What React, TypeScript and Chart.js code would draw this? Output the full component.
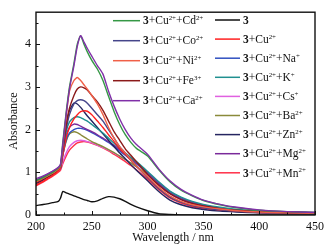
import React, { useEffect, useRef } from "react";
import { Chart, registerables } from "chart.js";
Chart.register(...registerables);

const wavelengths = [200,205,210,215,220,222,224,227,230,234,237,240,243,246,250,255,260,265,270,275,280,285,290,300,310,320,330,340,350,365,380,400,425,450];

const s3 = [0.22,0.24,0.26,0.29,0.32,0.40,0.55,0.52,0.49,0.45,0.42,0.39,0.36,0.34,0.31,0.33,0.39,0.43,0.42,0.38,0.32,0.25,0.19,0.1,0.03,0.01,0,0,0,0,0,0,0,0];
const sCu = [0.7,0.77,0.85,0.93,1.03,1.1,1.4,1.8,2.05,2.25,2.35,2.42,2.44,2.43,2.35,2.2,2.05,1.88,1.72,1.55,1.42,1.28,1.15,0.88,0.62,0.42,0.3,0.22,0.17,0.12,0.09,0.06,0.05,0.04];
const sNa = [0.75,0.82,0.9,0.97,1.06,1.1,1.4,1.75,1.92,2.0,2.03,2.03,2.01,1.98,1.93,1.86,1.78,1.7,1.6,1.5,1.4,1.3,1.2,0.98,0.74,0.52,0.38,0.28,0.22,0.15,0.11,0.08,0.06,0.05];
const sK = [0.78,0.84,0.92,0.99,1.08,1.12,1.5,1.95,2.18,2.28,2.3,2.28,2.24,2.2,2.12,2.02,1.92,1.8,1.68,1.56,1.45,1.35,1.25,1.02,0.78,0.56,0.42,0.32,0.25,0.18,0.13,0.09,0.07,0.05];
const sCs = [0.72,0.79,0.87,0.95,1.04,1.08,1.25,1.45,1.6,1.7,1.74,1.75,1.74,1.72,1.69,1.64,1.58,1.52,1.45,1.38,1.3,1.22,1.13,0.93,0.7,0.5,0.36,0.27,0.21,0.15,0.11,0.08,0.06,0.05];
const sBa = [0.74,0.81,0.89,0.96,1.05,1.1,1.4,1.72,1.9,1.95,1.93,1.88,1.83,1.78,1.72,1.66,1.6,1.53,1.46,1.38,1.3,1.22,1.13,0.95,0.73,0.52,0.38,0.29,0.23,0.16,0.12,0.09,0.07,0.05];
const sZn = [0.74,0.8,0.88,0.96,1.05,1.1,1.55,2.1,2.45,2.62,2.6,2.52,2.42,2.32,2.2,2.05,1.9,1.75,1.6,1.45,1.32,1.18,1.05,0.8,0.55,0.35,0.24,0.17,0.13,0.09,0.07,0.05,0.04,0.03];
const sMg = [0.82,0.88,0.95,1.02,1.1,1.12,1.45,1.85,2.05,2.13,2.12,2.08,2.04,2.0,1.95,1.88,1.8,1.72,1.63,1.53,1.43,1.33,1.22,1.0,0.76,0.55,0.4,0.3,0.23,0.16,0.12,0.09,0.07,0.06];
const sMn = [0.68,0.75,0.83,0.91,1.0,1.05,1.2,1.38,1.52,1.63,1.69,1.71,1.72,1.71,1.68,1.63,1.57,1.5,1.42,1.34,1.25,1.16,1.06,0.84,0.6,0.4,0.28,0.2,0.15,0.11,0.08,0.06,0.05,0.04];
const sCd = [0.8,0.86,0.93,1.0,1.1,1.18,1.7,2.4,3.0,3.55,4.0,4.2,4.0,3.82,3.62,3.42,3.15,2.78,2.42,2.12,1.88,1.7,1.56,1.38,1.06,0.78,0.58,0.45,0.34,0.24,0.17,0.11,0.08,0.06];
const sCo = [0.8,0.86,0.93,1.0,1.09,1.15,1.5,2.0,2.35,2.6,2.68,2.7,2.68,2.62,2.5,2.35,2.2,2.0,1.8,1.6,1.45,1.3,1.15,0.88,0.62,0.42,0.3,0.22,0.17,0.12,0.09,0.06,0.05,0.04];
const sNi = [0.78,0.84,0.91,0.98,1.08,1.15,1.6,2.3,2.9,3.15,3.22,3.15,3.05,2.95,2.8,2.6,2.35,2.05,1.8,1.6,1.45,1.3,1.15,0.9,0.65,0.45,0.32,0.24,0.19,0.14,0.1,0.07,0.05,0.04];
const sFe = [0.76,0.82,0.9,0.97,1.07,1.15,1.55,2.1,2.5,2.8,2.95,3.0,2.98,2.93,2.8,2.65,2.45,2.2,1.95,1.75,1.55,1.4,1.25,0.95,0.7,0.5,0.36,0.27,0.21,0.15,0.11,0.08,0.06,0.05];
const sCa = [0.85,0.9,0.96,1.03,1.12,1.2,1.65,2.35,2.95,3.5,3.95,4.2,4.05,3.9,3.72,3.5,3.3,2.9,2.55,2.25,2.0,1.8,1.65,1.42,1.08,0.8,0.6,0.46,0.35,0.25,0.18,0.12,0.08,0.06];

const seriesLabels = ["3","3+Cu²⁺","3+Cu²⁺+Na⁺","3+Cu²⁺+K⁺","3+Cu²⁺+Cs⁺","3+Cu²⁺+Ba²⁺","3+Cu²⁺+Zn²⁺","3+Cu²⁺+Mg²⁺","3+Cu²⁺+Mn²⁺","3+Cu²⁺+Cd²⁺","3+Cu²⁺+Co²⁺","3+Cu²⁺+Ni²⁺","3+Cu²⁺+Fe³⁺","3+Cu²⁺+Ca²⁺"];
const seriesValues = [s3,sCu,sNa,sK,sCs,sBa,sZn,sMg,sMn,sCd,sCo,sNi,sFe,sCa];
const seriesColors = ["#111111","#ff2020","#3050c0","#209090","#e060e0","#8a8a3a","#252560","#7a2a9a","#ff3048","#359845","#45458a","#f06048","#8b1a1a","#8030a8"];
const drawOrder = [13,9,11,12,10,1,3,6,7,2,5,4,8,0];

const xTicks = [200,250,300,350,400,450];
const yTicks = [0,1,2,3,4];

const FONT = "'Liberation Serif','Times New Roman',serif";
const SUP: Record<string,string> = {"²":"2","³":"3","⁺":"+"};

function drawRich(ctx: CanvasRenderingContext2D, text: string, x: number, y: number, size: number) {
  ctx.textBaseline = "alphabetic";
  ctx.textAlign = "left";
  const base = y + size * 0.33;
  let cx = x;
  for (let i = 0; i < text.length; i++) {
    const ch = text[i];
    if (SUP[ch]) {
      ctx.font = `${size * 0.6}px ${FONT}`;
      ctx.fillText(SUP[ch], cx, base - size * 0.38);
      cx += ctx.measureText(SUP[ch]).width;
    } else {
      ctx.font = (i === 0 && ch === "3" ? "bold " : "") + `${size}px ${FONT}`;
      ctx.fillText(ch, cx, base);
      cx += ctx.measureText(ch).width;
    }
  }
}

const framePlugin = {
  id: "frame",
  afterDatasetsDraw(chart: any) {
    const { ctx, chartArea: a, scales } = chart;
    const xs = scales.x, ys = scales.y;
    ctx.save();
    ctx.strokeStyle = "#111";
    ctx.lineWidth = 1.4;
    ctx.strokeRect(a.left, a.top, a.right - a.left, a.bottom - a.top);
    ctx.lineWidth = 1;
    for (let v = 200; v <= 450; v += 25) {
      const px = Math.round(xs.getPixelForValue(v)) + 0.5;
      const len = v % 50 === 0 ? 4 : 2.5;
      ctx.beginPath(); ctx.moveTo(px, a.bottom); ctx.lineTo(px, a.bottom - len); ctx.stroke();
    }
    for (let v = 0; v <= 4.5; v += 0.5) {
      const py = Math.round(ys.getPixelForValue(v)) + 0.5;
      const len = v % 1 === 0 ? 4 : 2.5;
      ctx.beginPath(); ctx.moveTo(a.left, py); ctx.lineTo(a.left + len, py); ctx.stroke();
    }
    // axis titles
    ctx.fillStyle = "#111";
    ctx.font = `12px ${FONT}`;
    ctx.textAlign = "center";
    ctx.textBaseline = "middle";
    ctx.fillText("Wavelength / nm", 173, 238);
    ctx.save();
    ctx.translate(14, 121);
    ctx.rotate(-Math.PI / 2);
    ctx.fillText("Absorbance", 0, 0);
    ctx.restore();
    // legend
    const cols = [
      { items: [9,10,11,12,13], x0: 113, x1: 140, tx: 143, y0: 20.7, dy: 20 },
      { items: [0,1,2,3,4,5,6,7,8], x0: 215, x1: 240, tx: 243, y0: 20, dy: 19.1 },
    ];
    for (const c of cols) {
      c.items.forEach((di, r) => {
        const y = c.y0 + r * c.dy;
        const ds = chart.data.datasets[drawOrder.indexOf(di)];
        ctx.strokeStyle = ds.borderColor;
        ctx.lineWidth = 1.5;
        ctx.beginPath(); ctx.moveTo(c.x0, y); ctx.lineTo(c.x1, y); ctx.stroke();
        ctx.fillStyle = "#111";
        drawRich(ctx, ds.label, c.tx, y, 11.5);
      });
    }
    ctx.restore();
  },
};

export default function App() {
  const ref = useRef<HTMLCanvasElement>(null);
  useEffect(() => {
    if (!ref.current) return;
    const datasets = drawOrder.map((i) => ({
      label: seriesLabels[i],
      data: wavelengths.map((w, k) => ({ x: w, y: seriesValues[i][k] })),
      borderColor: seriesColors[i],
      backgroundColor: seriesColors[i],
      borderWidth: 1.4,
      pointRadius: 0,
      tension: 0.2,
      fill: false,
    }));
    const chart = new Chart(ref.current, {
      type: "line",
      data: { datasets },
      options: {
        animation: false,
        responsive: false,
        layout: { padding: { top: 7, right: 18, left: 0, bottom: 0 } },
        plugins: { legend: { display: false }, tooltip: { enabled: false } },
        scales: {
          x: {
            type: "linear",
            min: 200,
            max: 450,
            grid: { display: false, drawTicks: false },
            border: { display: false },
            afterFit: (s: any) => { s.height = 36; },
            afterBuildTicks: (s: any) => { s.ticks = xTicks.map((v) => ({ value: v })); },
            ticks: { padding: 5, color: "#111", font: { family: FONT, size: 12 }, maxRotation: 0 },
          },
          y: {
            min: 0,
            max: 4.75,
            grid: { display: false, drawTicks: false },
            border: { display: false },
            afterFit: (s: any) => { s.width = 36; },
            afterBuildTicks: (s: any) => { s.ticks = yTicks.map((v) => ({ value: v })); },
            ticks: { padding: 5, color: "#111", font: { family: FONT, size: 12 } },
          },
        },
      },
      plugins: [framePlugin],
    } as any);
    return () => chart.destroy();
  }, []);
  return (
    <div style={{ position: "fixed", left: 0, top: 0, width: 333, height: 251, background: "#fff" }}>
      <canvas ref={ref} width={333} height={251} style={{ display: "block" }} />
    </div>
  );
}
